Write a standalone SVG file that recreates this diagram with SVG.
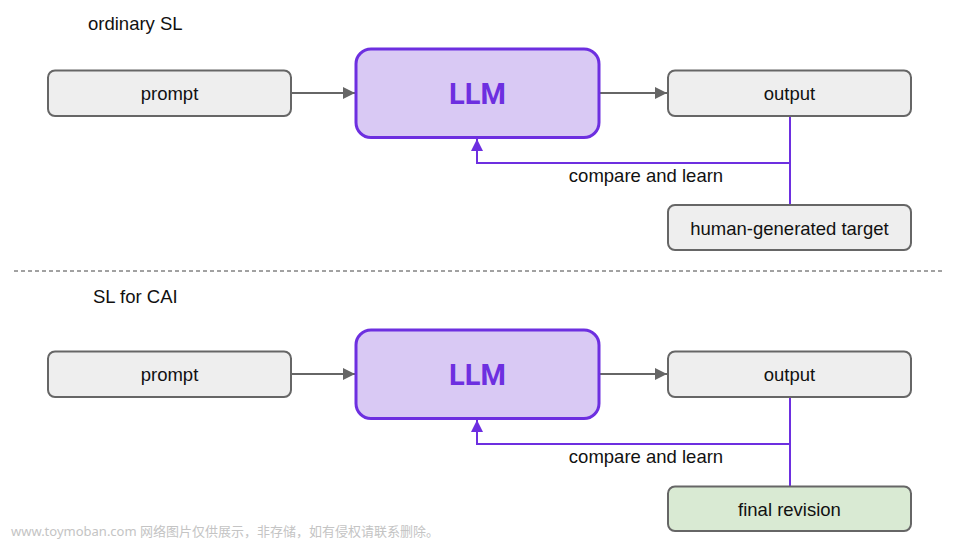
<svg xmlns="http://www.w3.org/2000/svg" width="960" height="540" viewBox="0 0 960 540">
<defs>
<marker id="ag" viewBox="0 0 10 10" refX="10" refY="5" markerWidth="12" markerHeight="12" markerUnits="userSpaceOnUse" orient="auto"><path d="M0,0 L10,5 L0,10 z" fill="#666"/></marker>
<marker id="ap" viewBox="0 0 10 10" refX="10" refY="5" markerWidth="12" markerHeight="12" markerUnits="userSpaceOnUse" orient="auto"><path d="M0,0 L10,5 L0,10 z" fill="#6d2fe0"/></marker>
<style>
.box{fill:#eeeeee;stroke:#666;stroke-width:2}
.green{fill:#d9ead3;stroke:#666;stroke-width:2}
.llm{fill:#d9c9f4;stroke:#6d2fe0;stroke-width:3}
.t{font-family:"Liberation Sans",Arial,sans-serif;font-size:18.5px;fill:#111;text-anchor:middle}
.lt{font-family:"Liberation Sans",Arial,sans-serif;font-size:18.5px;fill:#111}
.big{font-family:Roboto,"Liberation Sans",sans-serif;font-weight:bold;font-size:29px;fill:#6d2fe0;text-anchor:middle}
.g{stroke:#666;stroke-width:2;fill:none}
.p{stroke:#6d2fe0;stroke-width:2;fill:none}
.wm{font-family:"Noto Sans","Noto Sans CJK SC",sans-serif;font-size:13px;fill:#c4c4c4}
</style>
</defs>
<rect width="960" height="540" fill="#fff"/>
<text class="lt" x="88" y="30">ordinary SL</text>
<text class="lt" x="93" y="303">SL for CAI</text>
<line x1="14" y1="271" x2="942" y2="271" stroke="#444" stroke-width="1" stroke-dasharray="4,3"/>
<g id="connectors">
<line class="g" x1="291" y1="93" x2="355" y2="93" marker-end="url(#ag)"/>
<line class="g" x1="599" y1="93" x2="667" y2="93" marker-end="url(#ag)"/>
<polyline class="p" points="790,116 790,205"/>
<polyline class="p" points="790,163 477,163 477,139" marker-end="url(#ap)"/>
<line class="g" x1="291" y1="374" x2="355" y2="374" marker-end="url(#ag)"/>
<line class="g" x1="599" y1="374" x2="667" y2="374" marker-end="url(#ag)"/>
<polyline class="p" points="790,397 790,486"/>
<polyline class="p" points="790,444 477,444 477,420" marker-end="url(#ap)"/>
</g>
<text class="t" x="646" y="182">compare and learn</text>
<text class="t" x="646" y="463">compare and learn</text>
<g id="prompt1"><rect class="box" x="48" y="70.5" width="243" height="45.5" rx="7"/><text class="t" x="169.5" y="100">prompt</text></g>
<g id="llm1"><rect class="llm" x="356" y="49" width="243" height="88.5" rx="15"/><text class="big" x="477.5" y="103.5">LLM</text></g>
<g id="output1"><rect class="box" x="668" y="70.5" width="243" height="45.5" rx="7"/><text class="t" x="789.5" y="100">output</text></g>
<g id="target1"><rect class="box" x="668" y="205" width="243" height="45" rx="7"/><text class="t" x="789.5" y="234.5">human-generated target</text></g>
<g id="prompt2"><rect class="box" x="48" y="351.5" width="243" height="45.5" rx="7"/><text class="t" x="169.5" y="381">prompt</text></g>
<g id="llm2"><rect class="llm" x="356" y="330" width="243" height="88.5" rx="15"/><text class="big" x="477.5" y="384.5">LLM</text></g>
<g id="output2"><rect class="box" x="668" y="351.5" width="243" height="45.5" rx="7"/><text class="t" x="789.5" y="381">output</text></g>
<g id="final2"><rect class="green" x="668" y="486.5" width="243" height="44.5" rx="7"/><text class="t" x="789.5" y="515.5">final revision</text></g>
<text class="wm" x="11" y="536">www.toymoban.com 网络图片仅供展示，非存储，如有侵权请联系删除。</text>
</svg>
